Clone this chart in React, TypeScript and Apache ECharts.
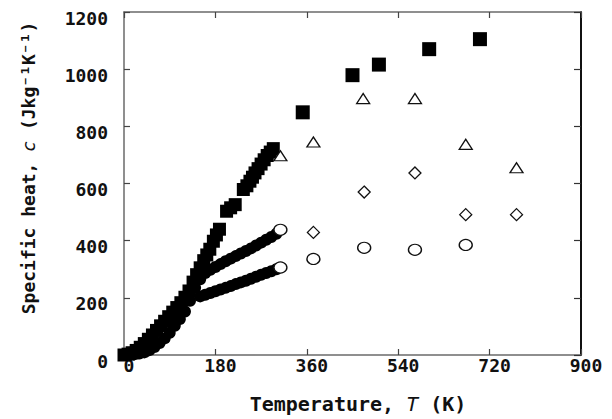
import React, { useEffect, useRef } from "react";
import * as echarts from "echarts";

// Temperature (K), specific heat (J kg^-1 K^-1)
const squaresDense: [number, number][] = [
  [0, 0], [8, 3], [16, 8], [24, 16], [32, 27], [40, 40], [48, 55], [56, 70], [64, 86], [72, 102],
  [80, 118], [88, 134], [96, 150], [104, 166], [112, 183], [120, 202], [128, 224], [136, 255],
  [143, 281], [150, 305], [157, 330], [163, 350], [169, 370], [176, 398], [182, 420], [188, 440],
  [202, 503], [210, 515], [219, 526], [235, 579], [242, 592], [248, 608], [253, 622], [258, 637],
  [264, 652], [270, 668], [276, 683], [282, 698], [288, 710], [294, 722],
];
const squaresHigh: [number, number][] = [
  [352, 849], [450, 979], [502, 1016], [601, 1070], [701, 1105],
];
const circlesUpper: [number, number][] = [
  [0, 0], [10, 0], [20, 2], [30, 5], [40, 9], [50, 17], [60, 28], [70, 42], [80, 58], [90, 78],
  [100, 102], [110, 126], [120, 152], [130, 190], [140, 235], [150, 265], [160, 287], [170, 298],
  [180, 308], [190, 318], [200, 328], [210, 337], [220, 346], [230, 355], [240, 364], [250, 373],
  [260, 383], [270, 393], [280, 403], [290, 413], [300, 424],
];
const circlesLower: [number, number][] = [
  [150, 205], [160, 211], [170, 217], [180, 223], [190, 229], [200, 235], [210, 241], [220, 248],
  [230, 254], [240, 260], [250, 267], [260, 274], [270, 281], [280, 287], [290, 293], [300, 300],
];
const triangles: [number, number][] = [
  [308, 697], [373, 745], [471, 897], [573, 897], [673, 737], [773, 655],
];
const diamonds: [number, number][] = [
  [373, 429], [473, 570], [573, 637], [673, 491], [773, 491],
];
const openCircles: [number, number][] = [
  [308, 438], [308, 306], [373, 336], [473, 375], [573, 368], [673, 385],
];

const xMin = 0, xMax = 900, xStep = 180;
const yMin = 0, yMax = 1200, yStep = 200;

const FONT = "'DejaVu Sans Mono', 'Liberation Mono', monospace";

export default function App() {
  const ref = useRef<HTMLDivElement>(null);
  useEffect(() => {
    if (!ref.current) return;
    const chart = echarts.init(ref.current, null, { renderer: "svg" });
    const axisLine = { show: true, onZero: false, lineStyle: { color: "#6a6a6a", width: 1.5 } };
    const tick = { show: true, inside: true, length: 6, lineStyle: { color: "#444", width: 1.2 } };
    const openStyle = { color: "#ffffff", borderColor: "#111", borderWidth: 1.3, opacity: 1 };
    const solid = { color: "#000", opacity: 1 };
    chart.setOption({
      animation: false,
      backgroundColor: "#ffffff",
      grid: { left: 124, right: 31, top: 12, bottom: 64 },
      xAxis: [
        {
          type: "value", min: xMin, max: xMax, interval: xStep, position: "bottom",
          axisLine, axisTick: tick, splitLine: { show: false },
          axisLabel: {
            margin: 1, padding: [0, 0, 0, 10], formatter: (v: number) => String(v),
            fontFamily: FONT, fontWeight: "bold", fontSize: 18, color: "#111",
          },
        },
        {
          type: "value", min: xMin, max: xMax, interval: xStep, position: "top",
          axisLine, axisTick: tick, splitLine: { show: false }, axisLabel: { show: false },
        },
      ],
      yAxis: [
        {
          type: "value", min: yMin, max: yMax, interval: yStep, position: "left",
          axisLine, axisTick: tick, splitLine: { show: false },
          axisLabel: {
            margin: 16, verticalAlign: "top", lineHeight: 12, formatter: (v: number) => String(v),
            fontFamily: FONT, fontWeight: "bold", fontSize: 18, color: "#111",
          },
        },
        {
          type: "value", min: yMin, max: yMax, interval: yStep, position: "right",
          axisLine: { show: true, onZero: false, lineStyle: { color: "#111", width: 2 } },
          axisTick: { show: true, inside: true, length: 7, lineStyle: { color: "#333", width: 1.2 } },
          splitLine: { show: false }, axisLabel: { show: false },
        },
      ],
      series: [
        {
          type: "scatter", data: circlesLower, symbol: "circle", symbolSize: 12,
          itemStyle: solid,
        },
        {
          type: "scatter", data: circlesUpper, symbol: "circle", symbolSize: 12,
          itemStyle: solid,
        },
        {
          type: "scatter", data: squaresDense, symbol: "rect", symbolSize: 13,
          itemStyle: solid,
        },
        {
          type: "scatter", data: squaresHigh, symbol: "rect", symbolSize: 14,
          itemStyle: solid,
        },
        {
          type: "scatter", data: triangles, symbol: "triangle", symbolSize: [13, 10],
          itemStyle: openStyle,
        },
        {
          type: "scatter", data: diamonds, symbol: "diamond", symbolSize: [12, 12],
          itemStyle: openStyle,
        },
        {
          type: "scatter", data: openCircles, symbol: "circle", symbolSize: [13, 11],
          itemStyle: openStyle,
        },
      ],
      graphic: [
        {
          type: "text", x: 28, y: 168, rotation: Math.PI / 2,
          style: {
            text: "{b|Specific heat, }{i|c}{b| (Jkg⁻¹K⁻¹)}",
            align: "center", verticalAlign: "middle",
            textAlign: "center", textVerticalAlign: "middle",
            rich: {
              b: { fontFamily: FONT, fontWeight: "bold", fontSize: 18, fill: "#111" },
              i: { fontFamily: FONT, fontStyle: "italic", fontSize: 18, fill: "#111" },
            },
          },
        },
        {
          type: "text", x: 358, y: 404,
          style: {
            text: "{b|Temperature, }{i|T}{b| (K)}",
            align: "center", verticalAlign: "middle",
            textAlign: "center", textVerticalAlign: "middle",
            rich: {
              b: { fontFamily: FONT, fontWeight: "bold", fontSize: 20, fill: "#111" },
              i: { fontFamily: FONT, fontStyle: "italic", fontSize: 20, fill: "#111" },
            },
          },
        },
      ],
    });
    return () => chart.dispose();
  }, []);
  return (
    <div
      ref={ref}
      style={{ position: "absolute", left: 0, top: 0, width: 612, height: 419, background: "#fff" }}
    />
  );
}
